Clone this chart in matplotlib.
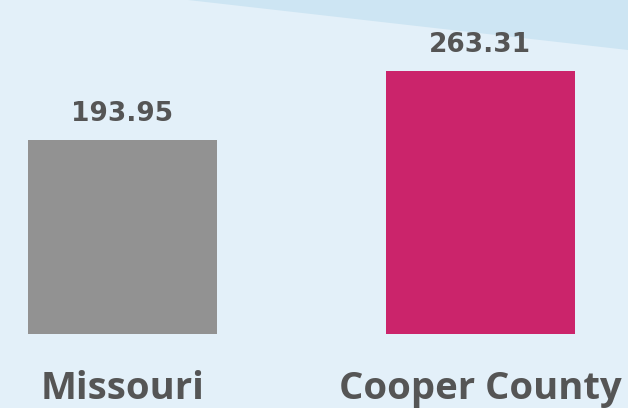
import matplotlib.pyplot as plt
from matplotlib.patches import Polygon

categories = ['Missouri', 'Cooper County']
values = [193.95, 263.31]
value_labels = ['193.95', '263.31']
bar_colors = ['#929292', '#cb246b']

bg = '#e3f0f9'
band = '#cde5f3'
text_color = '#555555'

fig = plt.figure(figsize=(6.28, 4.08), dpi=100, facecolor=bg)
ax = fig.add_axes([0, 0, 1, 1])
ax.set_facecolor(bg)

# lighter diagonal band in the top right corner
ax.add_patch(Polygon([(0.30, 1.0), (1.0, 1.0), (1.0, 0.877)], closed=True,
                     transform=ax.transAxes, facecolor=band, edgecolor='none', zorder=0))

x = range(len(categories))
bars = ax.bar(x, values, width=0.528, color=bar_colors, zorder=2)

for rect, lbl in zip(bars, value_labels):
    ax.annotate(lbl, (rect.get_x() + rect.get_width() / 2, rect.get_height()),
                xytext=(0, 19), textcoords='offset pixels', ha='center', va='baseline',
                fontsize=19, fontweight='bold', color=text_color, family='DejaVu Sans')

for i, cat in enumerate(categories):
    ax.text(i, -65, cat, ha='center', va='baseline', fontsize=27.5,
            fontweight='bold', color=text_color, family='Open Sans')

ax.set_xlim(-122.3 / 358, (628 - 122.3) / 358)
ax.set_ylim(-74, 334)
ax.axis('off')

fig.savefig('out.png', dpi=100, facecolor=bg)
